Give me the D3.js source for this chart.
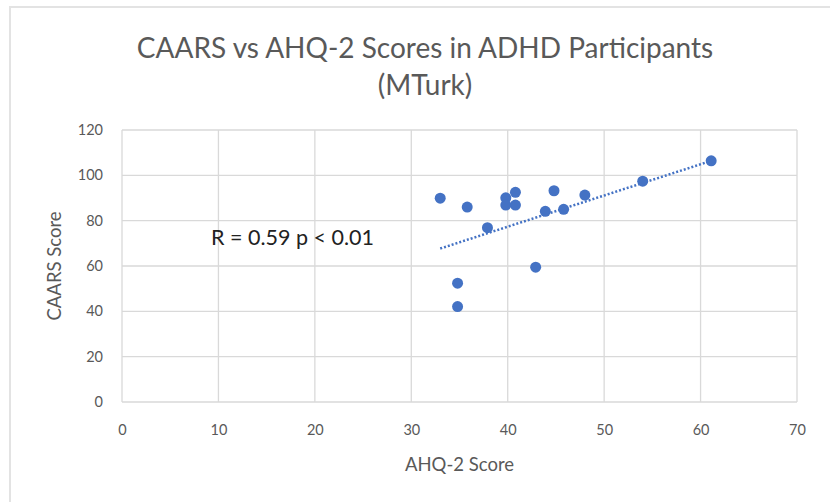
<!DOCTYPE html>
<html>
<head>
<meta charset="utf-8">
<script src="https://cdn.jsdelivr.net/npm/d3@7"></script>
<style>
  body { margin: 0; background: #fff; }
  text { font-family: Lato, "Open Sans", sans-serif; }
</style>
</head>
<body>
<div id="target"></div>
<script>
// AHQ-2 score (x) and CAARS score (y) per participant
const ahqScores = [33.0, 35.8, 34.8, 34.8, 37.9, 39.8, 39.8, 40.8, 40.8, 42.9, 43.9, 44.8, 45.8, 48.0, 54.0, 61.1];
const caarsScores = [89.9, 86.0, 52.4, 42.1, 76.9, 90.1, 86.9, 92.5, 86.9, 59.5, 84.1, 93.2, 85.0, 91.3, 97.4, 106.4];
// linear trendline ends
const trendX = [33.0, 61.1];
const trendY = [67.7, 106.4];
const xTicks = [0, 10, 20, 30, 40, 50, 60, 70];
const yTicks = [0, 20, 40, 60, 80, 100, 120];
const titleLines = ["CAARS vs AHQ-2 Scores in ADHD Participants", "(MTurk)"];
const note = "R = 0.59 p < 0.01";

function scatter() {
  const width = 830,
    height = 502,
    left = 122, right = 797,
    top = 130, bottom = 402,
    blue = "#4472c4",
    grid = "#d9d9d9",
    grey = "#595959";

  let svg = d3.select("#target").append("svg")
    .attr("width", width)
    .attr("height", height);

  // chart frame
  svg.append("rect")
    .attr("x", 10).attr("y", 7)
    .attr("width", width + 20).attr("height", height + 20)
    .attr("fill", "none")
    .attr("stroke", "#e3e3e3")
    .attr("stroke-width", 2);

  let x = d3.scaleLinear().domain([0, 70]).range([left, right]);
  let y = d3.scaleLinear().domain([0, 120]).range([bottom, top]);

  // gridlines
  svg.append("g").selectAll("line")
    .data(yTicks)
    .enter().append("line")
    .attr("x1", left).attr("x2", right)
    .attr("y1", (d) => y(d)).attr("y2", (d) => y(d))
    .attr("stroke", grid).attr("stroke-width", 1.3);
  svg.append("g").selectAll("line")
    .data(xTicks)
    .enter().append("line")
    .attr("x1", (d) => x(d)).attr("x2", (d) => x(d))
    .attr("y1", top).attr("y2", bottom)
    .attr("stroke", grid).attr("stroke-width", 1.3);

  // axes (labels only, Excel style)
  let xAxis = d3.axisBottom(x).tickValues(xTicks).tickSize(0).tickPadding(23);
  let yAxis = d3.axisLeft(y).tickValues(yTicks).tickSize(0).tickPadding(19);
  svg.append("g")
    .attr("transform", `translate(0,${bottom})`)
    .call(xAxis)
    .call((g) => g.select(".domain").remove())
    .selectAll("text")
    .attr("fill", grey).style("font-size", "14.5px");
  svg.append("g")
    .attr("transform", `translate(${left},0)`)
    .call(yAxis)
    .call((g) => g.select(".domain").remove())
    .selectAll("text")
    .attr("fill", grey).style("font-size", "14.5px");

  // titles
  svg.append("g").selectAll("text")
    .data(titleLines)
    .enter().append("text")
    .attr("x", 425)
    .attr("y", (d, i) => 58 + i * 37)
    .attr("text-anchor", "middle")
    .attr("fill", grey)
    .style("font-size", "28px")
    .text((d) => d);
  svg.append("text")
    .attr("x", (left + right) / 2).attr("y", 471)
    .attr("text-anchor", "middle")
    .attr("fill", grey)
    .style("font-size", "18.5px")
    .text("AHQ-2 Score");
  svg.append("text")
    .attr("transform", `translate(61,${(top + bottom) / 2}) rotate(-90)`)
    .attr("text-anchor", "middle")
    .attr("fill", grey)
    .style("font-size", "18.5px")
    .text("CAARS Score");

  // trendline
  svg.append("line")
    .attr("x1", x(trendX[0])).attr("y1", y(trendY[0]))
    .attr("x2", x(trendX[1])).attr("y2", y(trendY[1]))
    .attr("stroke", blue)
    .attr("stroke-width", 2.5)
    .attr("stroke-dasharray", "2,2");

  // points
  svg.append("g").selectAll("circle")
    .data(ahqScores)
    .enter().append("circle")
    .attr("cx", (d) => x(d))
    .attr("cy", (d, i) => y(caarsScores[i]))
    .attr("r", 5.5)
    .attr("fill", blue);

  svg.append("text")
    .attr("x", 211).attr("y", 245)
    .attr("fill", "#222")
    .style("font-size", "21.5px")
    .text(note);
}
scatter();
</script>
</body>
</html>
